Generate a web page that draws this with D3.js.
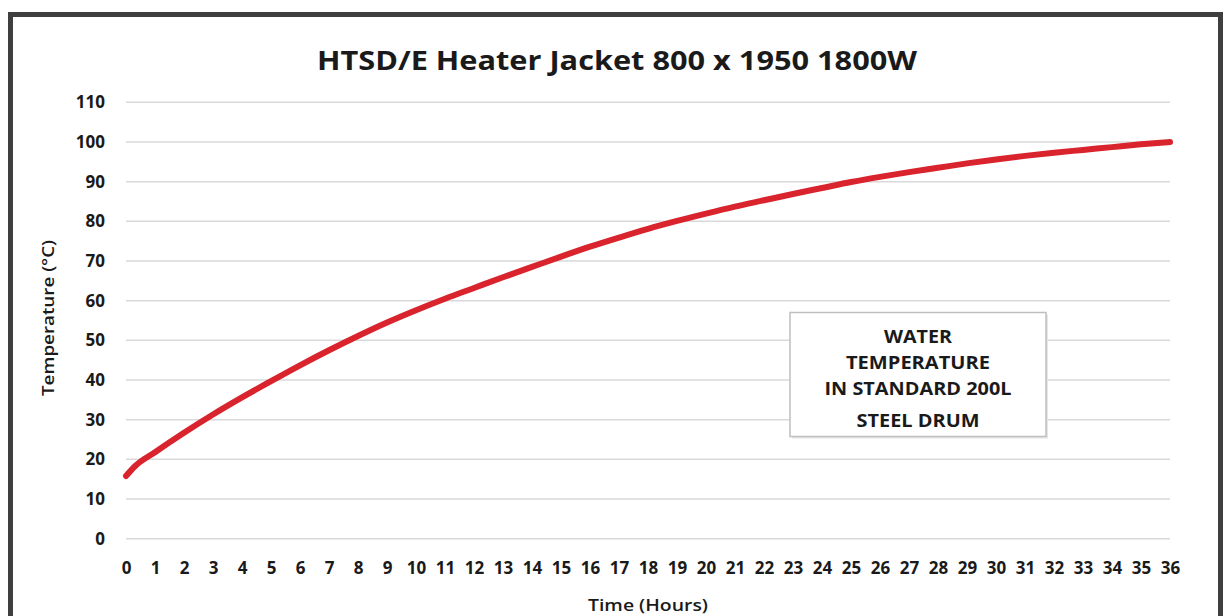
<!DOCTYPE html>
<html>
<head>
<meta charset="utf-8">
<script src="https://cdn.jsdelivr.net/npm/d3@7"></script>
<style>
  html, body { margin: 0; padding: 0; background: #ffffff; }
  svg { display: block; }
  text { font-family: "Open Sans", "Liberation Sans", sans-serif; fill: #1a1a1a; }
</style>
</head>
<body>
<script>
// ---- data ----
const chartTitle = "HTSD/E Heater Jacket 800 x 1950 1800W";
const xAxisTitle = "Time (Hours)";
const yAxisTitle = "Temperature (°C)";
const legendLines = ["WATER", "TEMPERATURE", "IN STANDARD 200L", "STEEL DRUM"];
const timeHours = [0, 0.3, 1, 2, 3, 4, 5, 6, 7, 8, 9, 10, 11, 12, 13, 14, 15, 16, 17, 18,
  19, 20, 21, 22, 23, 24, 25, 26, 27, 28, 29, 30, 31, 32, 33, 34, 35, 36];
const temperatureC = [15.8, 18.2, 21.8, 26.7, 31.3, 35.6, 39.7, 43.7, 47.5, 51.1, 54.5, 57.6,
  60.5, 63.2, 65.9, 68.5, 71.1, 73.6, 75.9, 78.1, 80.1, 81.95, 83.7, 85.3, 86.9, 88.4, 89.9,
  91.2, 92.4, 93.5, 94.6, 95.6, 96.5, 97.3, 98.0, 98.7, 99.4, 100.0];
const xTicks = d3.range(0, 37, 1);
const yTicks = d3.range(0, 111, 10);

// ---- layout ----
const W = 1225, H = 616;
const svg = d3.select("body").append("svg").attr("width", W).attr("height", H);

svg.append("rect").attr("x", 0).attr("y", 0).attr("width", W).attr("height", H).attr("fill", "#fff");
// outer frame
svg.append("rect")
  .attr("x", 10.5).attr("y", 14.5).attr("width", 1210).attr("height", 640)
  .attr("fill", "none").attr("stroke", "#3f3f3f").attr("stroke-width", 5);

const x = d3.scaleLinear().domain([0, 36]).range([126, 1170]);
const y = d3.scaleLinear().domain([0, 110]).range([538.7, 102.3]);

// gridlines
svg.append("g").selectAll("line").data(yTicks).join("line")
  .attr("x1", x(0)).attr("x2", x(36))
  .attr("y1", d => y(d)).attr("y2", d => y(d))
  .attr("stroke", "#d9d9d9").attr("stroke-width", 1.5);

// y axis labels
const yAxis = d3.axisLeft(y).tickValues(yTicks).tickSize(0).tickPadding(0);
const gy = svg.append("g").attr("transform", "translate(105,0)").call(yAxis);
gy.select(".domain").remove();
gy.selectAll("text").attr("font-size", 17).attr("font-weight", 700)
  .attr("font-family", "'Open Sans', sans-serif").attr("fill", "#1a1a1a");

// x axis labels
const xAxis = d3.axisBottom(x).tickValues(xTicks).tickSize(0).tickPadding(0).tickFormat(d3.format("d"));
const gx = svg.append("g").attr("transform", "translate(0,562)").call(xAxis);
gx.select(".domain").remove();
gx.selectAll("text").attr("font-size", 17).attr("font-weight", 700)
  .attr("font-family", "'Open Sans', sans-serif").attr("fill", "#1a1a1a");

// line
const pts = timeHours.map((t, i) => [t, temperatureC[i]]);
svg.append("path").datum(pts)
  .attr("fill", "none").attr("stroke", "#d9232d").attr("stroke-width", 6)
  .attr("stroke-linecap", "round").attr("stroke-linejoin", "round")
  .attr("d", d3.line().x(d => x(d[0])).y(d => y(d[1])).curve(d3.curveMonotoneX));

// title
svg.append("text").attr("x", 617).attr("y", 70).attr("text-anchor", "middle")
  .attr("font-size", 27).attr("font-weight", 700)
  .attr("textLength", 600).attr("lengthAdjust", "spacingAndGlyphs")
  .text(chartTitle);

// axis titles
svg.append("text").attr("x", 648).attr("y", 611).attr("text-anchor", "middle")
  .attr("font-size", 17).attr("font-weight", 600)
  .attr("textLength", 120).attr("lengthAdjust", "spacingAndGlyphs")
  .text(xAxisTitle);
svg.append("text").attr("transform", "translate(54,318) rotate(-90)").attr("text-anchor", "middle")
  .attr("font-size", 16).attr("font-weight", 600)
  .attr("textLength", 156).attr("lengthAdjust", "spacingAndGlyphs")
  .text(yAxisTitle);

// annotation box
svg.append("rect").attr("x", 792).attr("y", 314.5).attr("width", 256).attr("height", 124)
  .attr("fill", "#e6e6e6");
svg.append("rect").attr("x", 790).attr("y", 312.5).attr("width", 256).attr("height", 124)
  .attr("fill", "#ffffff").attr("stroke", "#bfbfbf").attr("stroke-width", 1.5);
const lineY = [343, 369, 395, 427];
const lineW = [68, 144, 187, 123];
svg.append("g").selectAll("text").data(legendLines).join("text")
  .attr("x", 918).attr("y", (d, i) => lineY[i]).attr("text-anchor", "middle")
  .attr("font-size", 17).attr("font-weight", 700)
  .attr("textLength", (d, i) => lineW[i]).attr("lengthAdjust", "spacingAndGlyphs")
  .text(d => d);
</script>
</body>
</html>
